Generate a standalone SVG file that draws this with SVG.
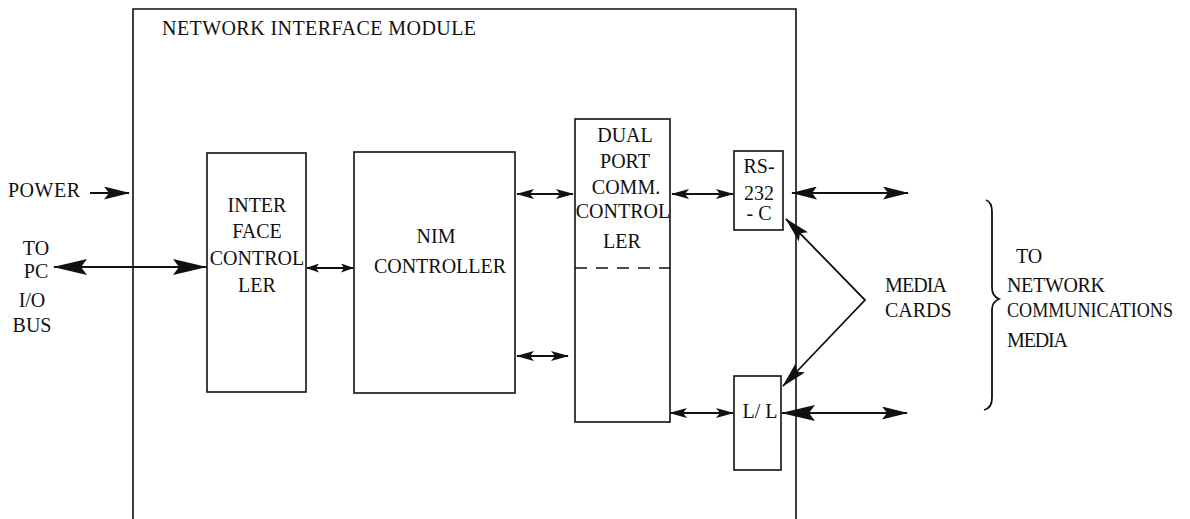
<svg xmlns="http://www.w3.org/2000/svg" width="1190" height="519" viewBox="0 0 1190 519">
<style>
text{font-family:"Liberation Serif","Times New Roman",serif;font-size:20px;fill:#111}
.c{text-anchor:middle}
.box{fill:none;stroke:#111;stroke-width:1.6}
.ln{fill:none;stroke:#111;stroke-width:1.8}
</style>
<defs>
<marker id="ah" viewBox="0 0 18 10" refX="17" refY="5" markerWidth="18" markerHeight="10" markerUnits="userSpaceOnUse" orient="auto-start-reverse">
<path d="M0,0 L18,5 L0,10 L4,5 z" fill="#111"/>
</marker>
<marker id="ahs" viewBox="0 0 13 9" refX="12" refY="4.5" markerWidth="13" markerHeight="9" markerUnits="userSpaceOnUse" orient="auto-start-reverse">
<path d="M0,0 L13,4.5 L0,9 L3,4.5 z" fill="#111"/>
</marker>
<marker id="ahl" viewBox="0 0 34 16" refX="33" refY="8" markerWidth="34" markerHeight="16" markerUnits="userSpaceOnUse" orient="auto-start-reverse">
<path d="M0,0 L34,8 L0,16 L6,8 z" fill="#111"/>
</marker>
<marker id="ahm" viewBox="0 0 26 13" refX="25" refY="6.5" markerWidth="26" markerHeight="13" markerUnits="userSpaceOnUse" orient="auto-start-reverse">
<path d="M0,0 L26,6.5 L0,13 L5,6.5 z" fill="#111"/>
</marker>
</defs>

<g id="module">
<path class="box" d="M133,519 V9 H796 V519"/>
<text x="162" y="35" textLength="314" lengthAdjust="spacing">NETWORK INTERFACE MODULE</text>
</g>

<g id="interface-controller">
<rect class="box" x="207" y="153" width="99" height="239"/>
<text class="c" x="257" y="212">INTER</text>
<text class="c" x="257" y="238">FACE</text>
<text class="c" x="257" y="265">CONTROL</text>
<text class="c" x="257" y="292">LER</text>
</g>

<g id="nim-controller">
<rect class="box" x="354" y="152" width="161" height="241"/>
<text class="c" x="436" y="243">NIM</text>
<text class="c" x="440" y="273">CONTROLLER</text>
</g>

<g id="dual-port">
<rect class="box" x="575" y="119" width="95" height="303"/>
<line x1="575" y1="268" x2="670" y2="268" stroke="#111" stroke-width="1.6" stroke-dasharray="12,9"/>
<text class="c" x="625" y="142">DUAL</text>
<text class="c" x="625" y="168">PORT</text>
<text class="c" x="626" y="194">COMM.</text>
<text class="c" x="623" y="218">CONTROL</text>
<text class="c" x="622" y="248">LER</text>
</g>

<g id="rs232c">
<rect class="box" x="734" y="151" width="49" height="79"/>
<text class="c" x="759" y="173">RS-</text>
<text class="c" x="759" y="200">232</text>
<text class="c" x="759" y="220">- C</text>
</g>

<g id="ll">
<rect class="box" x="734" y="376" width="47" height="94"/>
<text class="c" x="760" y="418">L/ L</text>
</g>

<g id="labels">
<text x="8" y="197" textLength="72" lengthAdjust="spacing">POWER</text>
<text class="c" x="36" y="255">TO</text>
<text class="c" x="36" y="278">PC</text>
<text class="c" x="32" y="307">I/O</text>
<text class="c" x="32" y="332">BUS</text>
<text x="885" y="292" textLength="62" lengthAdjust="spacing">MEDIA</text>
<text x="885" y="317">CARDS</text>
<text x="1016" y="263">TO</text>
<text x="1007" y="292" textLength="98" lengthAdjust="spacing">NETWORK</text>
<text x="1007" y="317" textLength="166" lengthAdjust="spacingAndGlyphs">COMMUNICATIONS</text>
<text x="1007" y="347" textLength="61" lengthAdjust="spacing">MEDIA</text>
</g>

<g id="connectors">
<line class="ln" x1="90" y1="193" x2="129" y2="193" marker-end="url(#ahm)"/>
<line class="ln" x1="54" y1="267" x2="206" y2="267" marker-start="url(#ahl)" marker-end="url(#ahl)"/>
<line class="ln" x1="307" y1="268" x2="353" y2="268" marker-start="url(#ahs)" marker-end="url(#ahs)"/>
<line class="ln" x1="517" y1="194" x2="573" y2="194" marker-start="url(#ah)" marker-end="url(#ah)"/>
<line class="ln" x1="517" y1="356" x2="568" y2="356" marker-start="url(#ah)" marker-end="url(#ah)"/>
<line class="ln" x1="672" y1="194" x2="733" y2="194" marker-start="url(#ah)" marker-end="url(#ah)"/>
<line class="ln" x1="670" y1="413" x2="733" y2="413" marker-start="url(#ah)" marker-end="url(#ah)"/>
<line class="ln" x1="792" y1="193" x2="908" y2="193" marker-start="url(#ahm)" marker-end="url(#ahm)"/>
<line class="ln" x1="782" y1="413" x2="907" y2="413" marker-start="url(#ahl)" marker-end="url(#ahm)"/>
<polyline class="ln" points="786,219 865,300 783,386" marker-start="url(#ahm)" marker-end="url(#ahm)"/>
<path class="ln" d="M986,200 Q992,202 992,212 L992,288 Q992,296 999,299 Q992,302 992,310 L992,398 Q992,408 984,410"/>
</g>
</svg>
